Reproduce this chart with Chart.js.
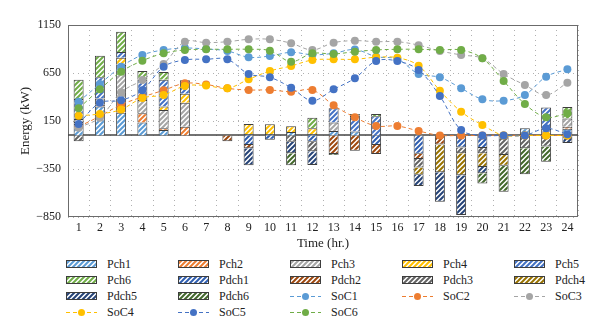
<!DOCTYPE html>
<html>
<head>
<meta charset="utf-8">
<script src="https://cdn.jsdelivr.net/npm/chart.js@4/dist/chart.umd.min.js"></script>
<style>
  body { margin: 0; background: #fff; }
  #wrap { position: relative; width: 600px; height: 335px; font-family: 'Liberation Serif', 'DejaVu Serif', serif; }
  #chartBox { position: absolute; left: 0; top: 0; width: 600px; height: 255px; }
  .item { position: absolute; display: flex; align-items: center; font-size: 12px; color: #222; height: 14px; }
  .item canvas { margin-right: 10px; }
</style>
</head>
<body>
<div id="wrap">
  <div id="chartBox"><canvas id="energyChart"></canvas></div>
  <div id="legend"></div>
</div>
<script>
const hours = ['1', '2', '3', '4', '5', '6', '7', '8', '9', '10', '11', '12',
               '13', '14', '15', '16', '17', '18', '19', '20', '21', '22', '23', '24'];

// charging power per storage unit (kW)
const pch1 = [120, 300, 235, 135, 55, null, null, null, 15, 15, 35, 15, 45, 40, null, null, null, null, null, null, null, 74, null, 70];
const pch2 = [20, 20, 150, 95, 20, 90, null, null, null, null, null, null, null, null, null, null, null, null, null, null, null, null, null, 20];
const pch3 = [30, 65, 350, 140, 190, 250, null, null, null, null, null, null, 90, null, null, null, null, null, null, null, null, null, 70, 85];
const pch4 = [null, null, 75, null, 35, 95, null, null, 105, 100, 60, 60, null, null, null, null, null, null, null, null, null, null, null, null];
const pch5 = [210, 220, 60, 210, 280, 140, null, null, null, null, null, null, 147, 165, 200, null, null, null, null, null, null, null, 220, null];
const pch6 = [200, 225, 210, 90, 80, null, null, null, null, null, null, 110, null, 18, 23, null, null, null, null, null, null, null, null, 120];

// discharging power (kW, negative)
const pdch1 = [null, null, null, null, null, null, null, null, -100, -45, null, -65, null, null, -100, null, -190, null, -125, -130, null, null, null, null];
const pdch2 = [null, null, null, null, null, null, null, -60, -35, null, null, null, -195, -160, -94, null, -55, -95, null, null, null, null, null, null];
const pdch3 = [-60, null, null, null, null, null, null, null, null, null, -65, -100, null, null, null, null, -90, null, -60, -55, -205, -135, -115, null];
const pdch4 = [null, null, null, null, null, null, null, null, null, null, null, null, null, null, null, null, -75, -290, -230, -145, -110, null, null, null];
const pdch5 = [null, null, null, null, null, null, null, null, -175, null, -120, -143, null, null, null, null, -117, -305, -415, -65, null, null, null, -80];
const pdch6 = [null, null, null, null, null, null, null, null, null, null, -125, null, -10, null, null, null, null, null, null, -105, -272, -270, -160, null];

// state of charge (kWh)
const soc1 = [351, 535, 716, 838, 890, 910, 900, 880, 814, 827, 866, 840, 855, 895, 820, 795, 640, 605, 491, 376, 362, 421, 612, 689];
const soc2 = [90, 200, 320, 400, 470, 543, 530, 490, 473, 473, 455, 473, 313, 188, 98, 98, 46, 0, 0, 0, 0, 0, 0, 0];
const soc3 = [80, 185, 450, 577, 744, 976, 966, 976, 1001, 1001, 960, 890, 966, 987, 976, 976, 940, 880, 838, 803, 640, 525, 421, 549];
const soc4 = [205, 223, 270, 390, 421, 515, 520, 490, 584, 671, 723, 786, 793, 793, 814, 810, 726, 466, 247, 108, 0, 0, 0, 0];
const soc5 = [120, 340, 365, 470, 716, 786, 793, 793, 640, 605, 497, 362, 480, 595, 775, 775, 681, 410, 56, 0, 0, 0, 74, 11];
const soc6 = [282, 480, 664, 778, 855, 890, 897, 897, 897, 883, 768, 855, 848, 872, 890, 897, 897, 890, 890, 803, 567, 327, 189, 230];

const yTicks = [-850, -350, 150, 650, 1150];

const light = ['#5B9BD5', '#ED7D31', '#A5A5A5', '#FFC000', '#4472C4', '#70AD47'];
const dark = ['#2F5EB0', '#9E480E', '#636363', '#997300', '#264478', '#43682B'];
const edge = '#3d3d3d';
const serif = 'Liberation Serif';

Chart.defaults.font.family = serif;

const canvas = document.getElementById('energyChart');
const ctx = canvas.getContext('2d');

// small tile with a "/" stripe, repeated as the bar fill
function stripeTile(color) {
    const t = document.createElement('canvas');
    t.width = 5; t.height = 5;
    const g = t.getContext('2d');
    g.fillStyle = '#fff';
    g.fillRect(0, 0, 5, 5);
    g.strokeStyle = color;
    g.lineWidth = 2;
    g.beginPath();
    g.moveTo(-1, 6); g.lineTo(6, -1);
    g.moveTo(-1, 1); g.lineTo(1, -1);
    g.moveTo(4, 6); g.lineTo(6, 4);
    g.stroke();
    return t;
}

function barSet(label, data, color) {
    return {
        label: label, data: data, color: color,
        backgroundColor: ctx.createPattern(stripeTile(color), 'repeat'),
        borderColor: edge, borderWidth: 1,
        stack: 'power', order: 2,
        barPercentage: 0.47, categoryPercentage: 1
    };
}

function lineSet(label, data, color, n) {
    return {
        type: 'line', label: label, data: data, color: color,
        borderColor: color, backgroundColor: color,
        borderWidth: 1, borderDash: [4, 3], tension: 0.35,
        pointRadius: 4, pointBorderWidth: 0, pointBackgroundColor: color,
        stack: 'soc' + n, order: 1 - n * 0.1, fill: false
    };
}

const pchs = [pch1, pch2, pch3, pch4, pch5, pch6];
const pdchs = [pdch1, pdch2, pdch3, pdch4, pdch5, pdch6];
const socs = [soc1, soc2, soc3, soc4, soc5, soc6];

const datasets = [];
pchs.forEach((d, i) => datasets.push(barSet('Pch' + (i + 1), d, light[i])));
pdchs.forEach((d, i) => datasets.push(barSet('Pdch' + (i + 1), d, dark[i])));
socs.forEach((d, i) => datasets.push(lineSet('SoC' + (i + 1), d, light[i], i + 1)));

// plot frame and zero axis
const frame = {
    id: 'frame',
    beforeDatasetsDraw(chart) {
        const a = chart.chartArea;
        const c = chart.ctx;
        c.save();
        c.strokeStyle = '#6b6b6b';
        c.lineWidth = 1;
        c.strokeRect(a.left + 0.5, a.top + 0.5, a.right - a.left - 1, a.bottom - a.top - 1);
        const y0 = Math.round(chart.scales.y.getPixelForValue(0));
        c.strokeStyle = '#444';
        c.lineWidth = 1.5;
        c.beginPath();
        c.moveTo(a.left, y0);
        c.lineTo(a.right, y0);
        c.stroke();
        c.restore();
    }
};

const tickFont = { family: serif, size: 12 };
const titleFont = { family: serif, size: 13 };

const chart = new Chart(canvas, {
    type: 'bar',
    data: { labels: hours, datasets: datasets },
    plugins: [frame],
    options: {
        responsive: true,
        maintainAspectRatio: false,
        animation: false,
        layout: { padding: { left: 0, right: 22, top: 25, bottom: 0 } },
        plugins: { legend: { display: false }, tooltip: { enabled: false } },
        scales: {
            x: {
                stacked: true,
                grid: { offset: true, color: '#b0b0b0', drawTicks: false },
                border: { display: false, dash: [1, 4] },
                ticks: { font: tickFont, color: '#222', padding: 4 },
                title: { display: true, text: 'Time (hr.)', font: titleFont, color: '#222', padding: { top: 0, bottom: 4 } },
                afterFit(scale) { scale.height = 38; }
            },
            y: {
                stacked: true,
                min: yTicks[0],
                max: yTicks[yTicks.length - 1],
                grid: { color: '#b0b0b0', drawTicks: false },
                border: { display: false, dash: [1, 4] },
                ticks: { stepSize: 500, font: tickFont, color: '#222', padding: 7, callback: v => String(v).replace('-', '\u2212') },
                title: { display: true, text: 'Energy (kW)', font: titleFont, color: '#222', padding: { top: 18, bottom: 0 } },
                afterFit(scale) { scale.width = 68; }
            }
        }
    }
});

// legend in five columns under the plot
const legend = document.getElementById('legend');
const rowY = [264, 280, 296, 312];
chart.data.datasets.forEach((ds, i) => {
    const item = document.createElement('div');
    item.className = 'item';
    item.style.left = (66 + (i % 5) * 112) + 'px';
    item.style.top = (rowY[Math.floor(i / 5)] - 7) + 'px';
    const sw = document.createElement('canvas');
    sw.width = 31; sw.height = 10;
    const g = sw.getContext('2d');
    if (ds.type === 'line') {
        g.strokeStyle = ds.color;
        g.lineWidth = 1;
        g.setLineDash([4, 3]);
        g.beginPath(); g.moveTo(0, 5.5); g.lineTo(31, 5.5); g.stroke();
        g.fillStyle = ds.color;
        g.beginPath(); g.arc(15.5, 5.5, 3.5, 0, Math.PI * 2); g.fill();
    } else {
        g.fillStyle = g.createPattern(stripeTile(ds.color), 'repeat');
        g.fillRect(1, 2, 29, 6);
        g.strokeStyle = edge; g.lineWidth = 1;
        g.strokeRect(0.5, 1.5, 30, 7);
    }
    item.appendChild(sw);
    item.appendChild(document.createTextNode(ds.label));
    legend.appendChild(item);
});
</script>
</body>
</html>
